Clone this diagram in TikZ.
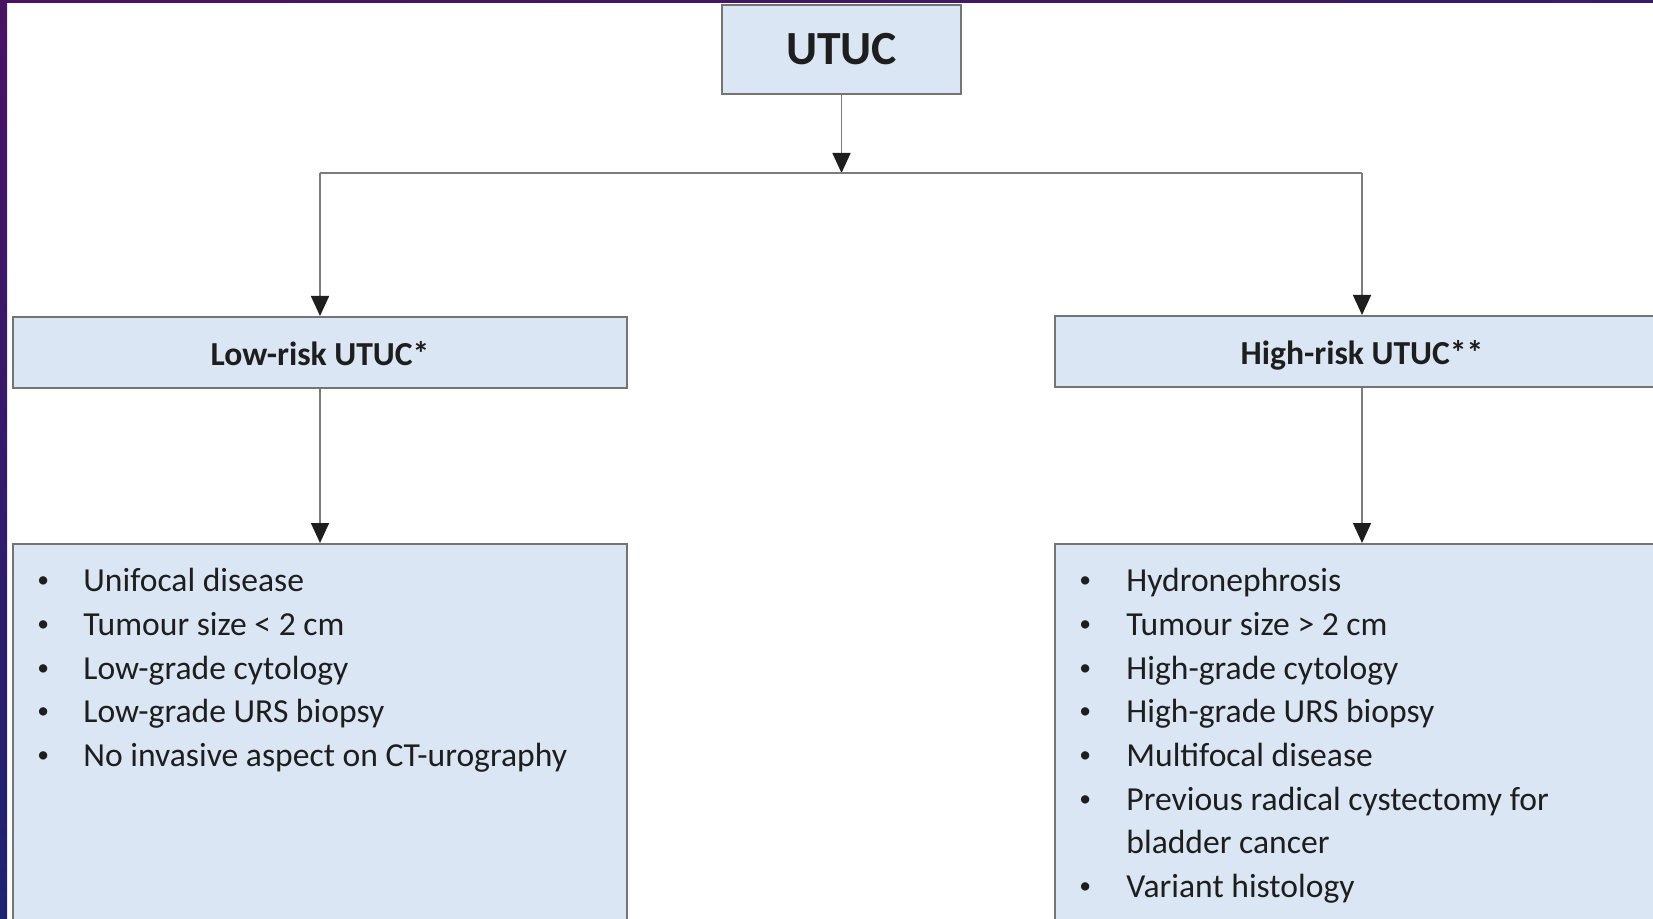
\documentclass[tikz,border=0pt]{standalone}
\usepackage{fontspec}
\setmainfont{Carlito}
\usetikzlibrary{arrows.meta}

\definecolor{boxfill}{HTML}{DAE6F3}
\definecolor{boxline}{HTML}{747474}
\definecolor{wireline}{HTML}{7C7C7C}
\definecolor{inktext}{HTML}{1E1E1E}
\definecolor{framepurple}{HTML}{4A1362}
\definecolor{framenavy}{HTML}{1E2372}
\definecolor{frameviolet}{HTML}{3C1A6A}

% small list bullet
\newcommand{\dotmark}{\raisebox{0.12em}{\scalebox{0.7}{\textbullet}}}

\begin{document}
\begin{tikzpicture}[x=0.5pt,y=-0.5pt,
  box/.style={draw=boxline, line width=1pt, fill=boxfill, inner sep=0pt,
              text=inktext, minimum width=307pt},
  headbox/.style={box, minimum height=35.5pt, text height=13.1pt, text depth=0pt,
                  font=\bfseries\fontsize{16.8}{20}\selectfont},
  listbox/.style={box, minimum height=208pt},
  items/.style={inner sep=0pt, text=inktext, font=\fontsize{16.8}{21.85}\selectfont},
  wire/.style={draw=wireline, line width=0.8pt},
  arrow/.style={wire, -{Triangle[width=9pt,length=10pt,color=inktext]}}]

  % page and clipping window
  \useasboundingbox (0,0) rectangle (1653,919);
  \clip (0,0) rectangle (1653,919);
  \fill[white] (0,0) rectangle (1653,919);

  % slide frame: purple strip on top, shaded strip on the left
  \shade[left color=framepurple, right color=frameviolet] (0,0) rectangle (1653,3);
  \shade[top color=framepurple, bottom color=framenavy] (0,0) rectangle (7,919);

  % root
  \node[box, minimum width=119.5pt, minimum height=44.5pt,
        font=\bfseries\fontsize{23.8}{28}\selectfont] (utuc) at (841.5,49.5) {UTUC};

  % risk groups
  \node[headbox] (low)  at (320,352.5) {Low-risk UTUC*};
  \node[headbox] (high) at (1362,351.5) {High-risk UTUC**};

  % criteria boxes
  \node[listbox] (lowlist)  at (320,752) {};
  \node[listbox] (highlist) at (1362,752) {};

  \node[items, anchor=base west] (lowitems) at (37,591.7) {%
    \begin{tabular}[t]{@{}p{23pt}@{}l@{}}
      \dotmark & Unifocal disease\\
      \dotmark & Tumour size < 2 cm\\
      \dotmark & Low-grade cytology\\
      \dotmark & Low-grade URS biopsy\\
      \dotmark & No invasive aspect on CT-urography
    \end{tabular}};

  \node[items, anchor=base west] (highitems) at (1079,591.7) {%
    \begin{tabular}[t]{@{}p{23.5pt}@{}l@{}}
      \dotmark & Hydronephrosis\\
      \dotmark & Tumour size > 2 cm\\
      \dotmark & High-grade cytology\\
      \dotmark & High-grade URS biopsy\\
      \dotmark & Multifocal disease\\
      \dotmark & Previous radical cystectomy for\\
               & bladder cancer\\
      \dotmark & Variant histology
    \end{tabular}};

  % branching connectors
  \coordinate (split)  at (841.5,173);
  \coordinate (splitL) at (320,173);
  \coordinate (splitR) at (1362,173);

  \draw[arrow] (utuc.south) -- (split);
  \draw[wire] (splitL) -- (splitR);
  \draw[arrow] (splitL) -- (low.north);
  \draw[arrow] (splitR) -- (high.north);
  \draw[arrow] (low.south) -- (lowlist.north);
  \draw[arrow] (high.south) -- (highlist.north);
\end{tikzpicture}
\end{document}
